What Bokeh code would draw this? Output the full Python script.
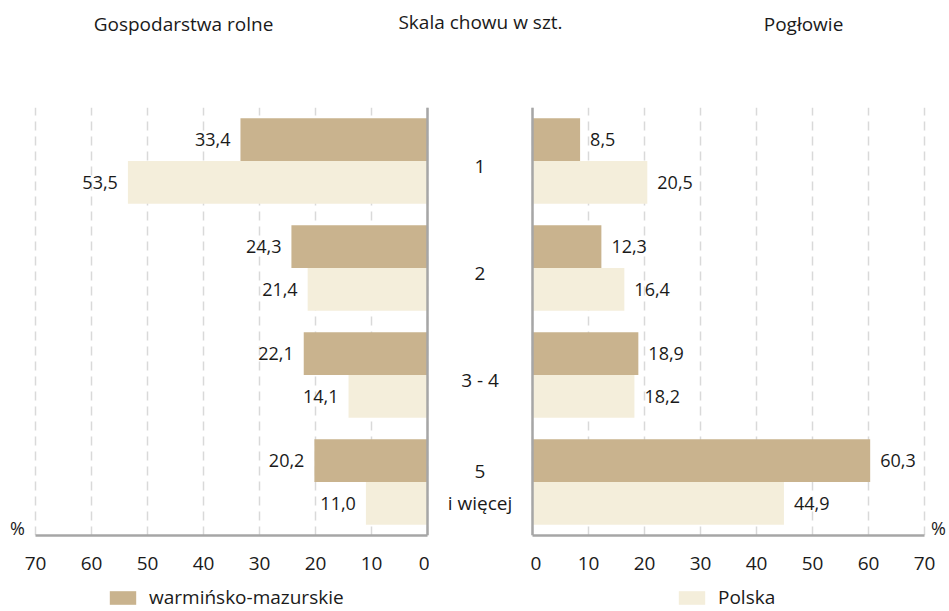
from bokeh.plotting import figure
from bokeh.layouts import row, column
from bokeh.models import Range1d, FactorRange, ColumnDataSource, FixedTicker, Span, Label, Legend, LegendItem
from bokeh.transform import dodge
from bokeh.core.properties import value
from bokeh.embed import file_html
from bokeh.resources import INLINE

# ---- data ----
categories = ["1", "2", "3 - 4", "5\ni więcej"]
gosp_warm = [33.4, 24.3, 22.1, 20.2]
gosp_pl = [53.5, 21.4, 14.1, 11.0]
poglow_warm = [8.5, 12.3, 18.9, 60.3]
poglow_pl = [20.5, 16.4, 18.2, 44.9]
x_ticks = [0, 10, 20, 30, 40, 50, 60, 70]
series_names = ["warmińsko-mazurskie", "Polska"]
titles = ["Gospodarstwa rolne", "Skala chowu w szt.", "Pogłowie"]
unit = "%"

WARM = "#C9B38E"
PL = "#F4EEDB"
AXIS = "#A6A6A6"
GRID = "#D9D9D9"
TXT = "#1a1a1a"
FONT = "Open Sans"

PX = 5.6          # pixels per percent
XMAX = x_ticks[-1]


def fmt(v):
    return f"{v:.1f}".replace(".", ",")


src = ColumnDataSource(dict(
    cat=categories,
    gw=gosp_warm, gp=gosp_pl, pw=poglow_warm, pp=poglow_pl,
    gw_l=[fmt(v) for v in gosp_warm], gp_l=[fmt(v) for v in gosp_pl],
    pw_l=[fmt(v) for v in poglow_warm], pp_l=[fmt(v) for v in poglow_pl],
))

y_range = FactorRange(factors=categories[::-1], range_padding=0)

TOP = 49
BOTTOM = 49
H = TOP + 428 + BOTTOM


def style(p):
    p.outline_line_color = None
    p.background_fill_color = "white"
    p.border_fill_color = "white"
    p.xgrid.grid_line_color = None
    p.ygrid.grid_line_color = None


def panel(width, x_range, wcol, pcol, side, pct_dx):
    p = figure(width=width, height=H, x_range=x_range, y_range=y_range,
               min_border_left=0, min_border_right=0,
               min_border_top=TOP, min_border_bottom=BOTTOM,
               y_axis_location=None, output_backend="svg", toolbar_location=None)
    style(p)
    p.xaxis.ticker = FixedTicker(ticks=x_ticks)
    p.xaxis.bounds = (0, XMAX)
    p.xaxis.major_tick_line_color = None
    p.xaxis.minor_tick_line_color = None
    p.xaxis.major_tick_out = 0
    p.xaxis.major_tick_in = 0
    p.xaxis.axis_line_color = AXIS
    p.xaxis.axis_line_width = 2.5
    p.xaxis.major_label_text_font = FONT
    p.xaxis.major_label_text_font_size = "19px"
    p.xaxis.major_label_text_color = TXT
    p.xaxis.major_label_standoff = 21
    p.xgrid.ticker = FixedTicker(ticks=x_ticks)
    p.xgrid.grid_line_color = GRID
    p.xgrid.grid_line_dash = "9 6"
    p.xgrid.grid_line_width = 1.5

    p.hbar(y=dodge("cat", 0.2, range=y_range), left=0, right=wcol, height=0.4,
           source=src, fill_color=WARM, line_color=None)
    p.hbar(y=dodge("cat", -0.2, range=y_range), left=0, right=pcol, height=0.4,
           source=src, fill_color=PL, line_color=None)
    off = -10 if side == "left" else 10
    align = "right" if side == "left" else "left"
    for col, d in ((wcol, 0.2), (pcol, -0.2)):
        p.text(x=col, y=dodge("cat", d, range=y_range), text=col + "_l", source=src,
               x_offset=off, text_align=align, text_baseline="middle",
               text_font=value(FONT), text_font_size="18px", text_color=TXT)

    p.add_layout(Span(location=0, dimension="height", line_color=AXIS, line_width=2.5))
    p.add_layout(Label(x=XMAX, y=0, x_offset=pct_dx, y_offset=8, text=unit,
                       text_align="center", text_baseline="middle",
                       text_font=FONT, text_font_size="18px", text_color=TXT))
    return p


# left panel: frame spans x=0..429 px, value 70 at 35 px, value 0 at 427 px
left = panel(429, Range1d(XMAX + 35 / PX, -2 / PX), "gw", "gp", "left", -18)
# right panel: frame spans x=530..949 px, value 0 at 532 px
right = panel(419, Range1d(-2 / PX, (419 - 2) / PX), "pw", "pp", "right", 14)

mid = figure(width=101, height=H, x_range=Range1d(0, 1), y_range=y_range,
             min_border_left=0, min_border_right=0, min_border_top=TOP, min_border_bottom=BOTTOM,
             x_axis_location=None, y_axis_location=None,
             output_backend="svg", toolbar_location=None)
style(mid)
mid.text(x=0.5, y="cat", text="cat", source=src, text_align="center", text_baseline="middle",
         y_offset=5, text_font=value(FONT), text_font_size="19px", text_color=TXT)

top = figure(width=949, height=58, x_range=Range1d(0, 949), y_range=Range1d(0, 58),
             min_border=0, x_axis_location=None, y_axis_location=None,
             output_backend="svg", toolbar_location=None)
style(top)
top.text(x=[183, 480, 803], y=[35, 37, 35], text=titles, text_align="center",
         text_baseline="middle", text_font=value(FONT), text_font_size="19px", text_color=TXT)

# legend strip (swatch helpers sit outside the visible range; only the legend shows them)
BH = 611 - 58 - H
bottom = figure(width=949, height=BH, x_range=Range1d(0, 949), y_range=Range1d(0, BH),
                min_border=0, x_axis_location=None, y_axis_location=None,
                output_backend="svg", toolbar_location=None)
style(bottom)
helper = ColumnDataSource(dict(y=[-1000], r=[0]))
hw = bottom.hbar(y="y", left=0, right="r", height=1, source=helper, fill_color=WARM, line_color=None)
hp = bottom.hbar(y="y", left=0, right="r", height=1, source=helper, fill_color=PL, line_color=None)
for name, rend, lx in ((series_names[0], hw, 106), (series_names[1], hp, 675)):
    leg = Legend(items=[LegendItem(label=name, renderers=[rend])],
                 location=(lx, 1), orientation="horizontal",
                 padding=0, margin=0, spacing=0, glyph_width=33, glyph_height=17,
                 label_standoff=10, label_text_font=FONT, label_text_font_size="19px",
                 label_text_color=TXT, border_line_color=None, background_fill_alpha=0)
    bottom.add_layout(leg)

layout = column(top, row(left, mid, right), bottom)
open("out.html", "w").write(file_html(layout, INLINE))
